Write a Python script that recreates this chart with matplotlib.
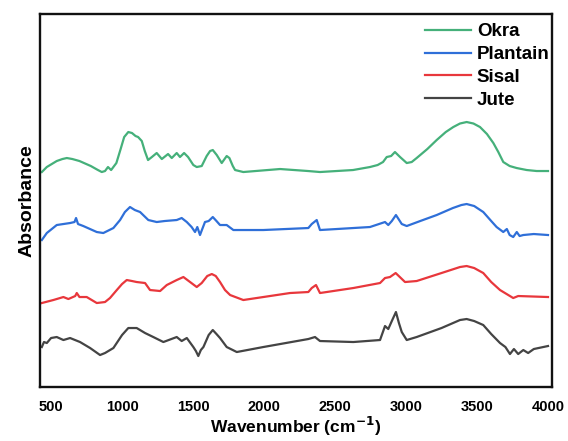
import matplotlib
matplotlib.use("Agg")
import matplotlib.pyplot as plt

plt.rcParams['font.family'] = ['Liberation Sans', 'DejaVu Sans']

labels = ["Okra", "Plantain", "Sisal", "Jute"]
colors = ["#45b07a", "#2f6fd8", "#e8373c", "#444444"]

okra_x = [435, 470, 540, 580, 611, 650, 700, 780, 830, 857, 880, 901, 923, 960, 990, 1015, 1044, 1070,
          1095, 1113, 1139, 1160, 1183, 1210, 1244, 1280, 1324, 1350, 1385, 1408, 1437, 1465, 1502,
          1526, 1561, 1596, 1620, 1639, 1667, 1702, 1737, 1756, 1780, 1796, 1854, 2113, 2310, 2394,
          2627, 2746, 2800, 2838, 2864, 2895, 2922, 2958, 3005, 3040, 3075, 3150, 3216, 3280, 3333,
          3380, 3427, 3475, 3521, 3570, 3615, 3650, 3685, 3730, 3779, 3850, 3920, 4000]
okra_y = [2.15, 2.20, 2.26, 2.28, 2.29, 2.28, 2.26, 2.21, 2.17, 2.15, 2.16, 2.20, 2.17, 2.24, 2.38, 2.50, 2.55, 2.54,
          2.51, 2.50, 2.46, 2.36, 2.27, 2.30, 2.34, 2.28, 2.33, 2.29, 2.34, 2.30, 2.34, 2.30, 2.22,
          2.20, 2.21, 2.31, 2.36, 2.37, 2.32, 2.24, 2.31, 2.29, 2.21, 2.17, 2.15, 2.18, 2.16, 2.15,
          2.17, 2.20, 2.22, 2.25, 2.30, 2.31, 2.35, 2.30, 2.24, 2.25, 2.29, 2.38, 2.47, 2.55, 2.60,
          2.635, 2.65, 2.635, 2.60, 2.53, 2.44, 2.35, 2.25, 2.21, 2.19, 2.17, 2.16, 2.16]

plantain_x = [435, 470, 540, 634, 665, 676, 690, 727, 822, 868, 939, 986, 1020, 1056, 1090, 1127, 1185,
              1244, 1300, 1385, 1420, 1456, 1490, 1514, 1530, 1549, 1565, 1584, 1610, 1639, 1665, 1690,
              1737, 1784, 1995, 2312, 2336, 2371, 2394, 2512, 2746, 2852, 2875, 2900, 2929, 2970, 3005,
              3100, 3216, 3330, 3390, 3427, 3480, 3544, 3600, 3638, 3685, 3710, 3730, 3755, 3780, 3800,
              3826, 3900, 4000]
plantain_y = [1.47, 1.54, 1.62, 1.64, 1.65, 1.69, 1.63, 1.61, 1.55, 1.54, 1.59, 1.67, 1.75, 1.80, 1.77, 1.75, 1.67,
              1.65, 1.66, 1.67, 1.69, 1.65, 1.60, 1.55, 1.60, 1.52, 1.58, 1.65, 1.66, 1.70, 1.66, 1.62,
              1.62, 1.57, 1.57, 1.59, 1.63, 1.67, 1.57, 1.58, 1.60, 1.65, 1.62, 1.66, 1.72, 1.63, 1.61,
              1.66, 1.72, 1.79, 1.82, 1.83, 1.81, 1.75, 1.66, 1.60, 1.55, 1.58, 1.52, 1.50, 1.55, 1.51,
              1.52, 1.53, 1.52]

sisal_x = [435, 516, 587, 622, 670, 681, 700, 751, 822, 880, 915, 963, 1000, 1033, 1070, 1103, 1162, 1197,
           1268, 1315, 1385, 1432, 1479, 1526, 1561, 1600, 1632, 1660, 1690, 1725, 1761, 1854, 1995,
           2183, 2312, 2336, 2366, 2394, 2629, 2817, 2852, 2887, 2927, 2993, 3075, 3250, 3380, 3427,
           3480, 3544, 3600, 3662, 3755, 3790, 4000]
sisal_y = [0.84, 0.87, 0.90, 0.88, 0.91, 0.94, 0.90, 0.90, 0.84, 0.85, 0.89, 0.97, 1.03, 1.07, 1.06, 1.05, 1.04, 0.97,
           0.96, 1.02, 1.07, 1.10, 1.05, 1.00, 1.04, 1.11, 1.13, 1.11, 1.05, 0.97, 0.92, 0.87, 0.90,
           0.94, 0.95, 0.99, 1.02, 0.94, 0.99, 1.04, 1.09, 1.10, 1.14, 1.05, 1.06, 1.14, 1.20, 1.21,
           1.19, 1.14, 1.05, 0.97, 0.89, 0.91, 0.90]

jute_x = [435, 450, 470, 500, 540, 587, 634, 704, 775, 845, 880, 939, 1000, 1044, 1103, 1162, 1220, 1291,
          1385, 1420, 1456, 1502, 1520, 1537, 1555, 1573, 1610, 1639, 1665, 1690, 1737, 1808, 1995,
          2312, 2359, 2394, 2629, 2817, 2852, 2875, 2900, 2929, 2950, 2970, 3005, 3075, 3250, 3380,
          3427, 3480, 3544, 3600, 3662, 3700, 3732, 3760, 3790, 3826, 3860, 3900, 4000]
jute_y = [0.40, 0.45, 0.44, 0.49, 0.50, 0.47, 0.49, 0.45, 0.39, 0.32, 0.34, 0.39, 0.52, 0.59, 0.59, 0.54, 0.50, 0.45,
          0.50, 0.46, 0.49, 0.40, 0.36, 0.31, 0.37, 0.40, 0.52, 0.57, 0.53, 0.49, 0.40, 0.35, 0.40,
          0.48, 0.50, 0.46, 0.45, 0.47, 0.61, 0.58, 0.66, 0.75, 0.64, 0.55, 0.47, 0.50, 0.59, 0.67,
          0.68, 0.66, 0.62, 0.53, 0.44, 0.40, 0.33, 0.38, 0.33, 0.37, 0.34, 0.38, 0.41]

series = [(okra_x, okra_y), (plantain_x, plantain_y), (sisal_x, sisal_y), (jute_x, jute_y)]
xticks = [500, 1000, 1500, 2000, 2500, 3000, 3500, 4000]

fig = plt.figure(figsize=(5.68, 4.41), dpi=100)
ax = fig.add_axes([0.0704, 0.1224, 0.9014, 0.8458])

for (x, y), lab, c in zip(series, labels, colors):
    ax.plot(x, y, color=c, lw=1.6, label=lab, solid_joinstyle='round')

ax.set_xlim(422, 4028)
ax.set_ylim(0, 3.73)
ax.set_xticks(xticks)
ax.set_xticklabels([str(t) for t in xticks], fontsize=10.5, fontweight='bold')
ax.set_yticks([])
ax.tick_params(axis='x', length=0, pad=9)
for s in ax.spines.values():
    s.set_linewidth(1.7)
    s.set_color('#111111')

ax.set_xlabel("Wavenumber (cm$^{\\mathbf{-1}}$)", fontsize=12.5, fontweight='bold', labelpad=1)
ax.set_ylabel("Absorbance", fontsize=14, fontweight='bold', labelpad=3)

leg = ax.legend(loc='upper left', bbox_to_anchor=(0.752, 0.975), frameon=False,
                prop={'size': 13.5, 'weight': 'bold'}, handlelength=2.45, handletextpad=0.32,
                labelspacing=0.3, borderaxespad=0.0, borderpad=0.0)

fig.savefig("out.png", dpi=100)
